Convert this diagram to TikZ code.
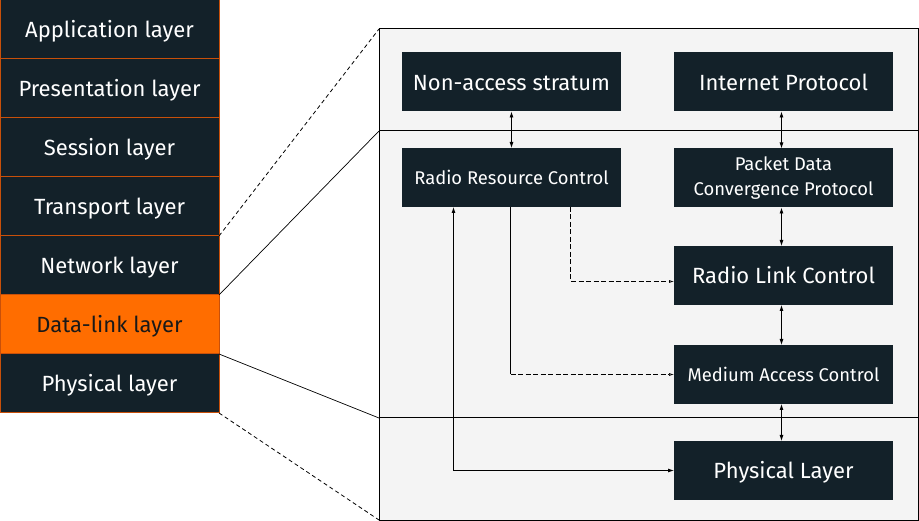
\documentclass[tikz,border=0pt]{standalone}
\usepackage{fontspec}
\setmainfont{Fira Sans}
\usetikzlibrary{arrows.meta}
\definecolor{navy}{HTML}{132129}
\definecolor{orng}{HTML}{FF6D00}
\definecolor{orngline}{HTML}{C8500A}
\definecolor{panelfill}{HTML}{F4F4F4}
\tikzset{
  bigfont/.style={font=\fontsize{22}{26}\selectfont, text height=16.4pt, text depth=0pt},
  smallfont/.style={font=\fontsize{18.4}{24}\selectfont, text height=14.4pt, text depth=0pt},
  layerbox/.style={rectangle, draw=orngline, line width=1pt, fill=navy, text=white,
    minimum width=219pt, minimum height=59pt, inner sep=0pt, outer sep=0pt, bigfont},
  region/.style={rectangle, draw=black, line width=1pt, fill=panelfill,
    minimum width=539pt, inner sep=0pt, outer sep=0pt, anchor=north west},
  protobox/.style={rectangle, fill=navy, text=white, minimum width=219pt,
    minimum height=59pt, inner sep=0pt, outer sep=0pt, align=center, bigfont},
  biarr/.style={{Latex[length=6pt,width=4pt]}-{Latex[length=6pt,width=4pt]}, line width=0.8pt},
  dasharr/.style={-{Latex[length=5pt,width=3pt,open]}, dash pattern=on 5pt off 2.5pt, line width=0.6pt},
  linkline/.style={line width=0.7pt},
  linkdash/.style={line width=0.8pt, dash pattern=on 4pt off 3pt}
}
\begin{document}
\begin{tikzpicture}[x=1pt,y=-1pt]
\useasboundingbox (0,0) rectangle (919,521);

% OSI stack
\node[layerbox] (appl) at (109.5,29.5) {Application layer};
\node[layerbox] (pres) at (109.5,88.5) {Presentation layer};
\node[layerbox] (sess) at (109.5,147.5) {Session layer};
\node[layerbox] (trans) at (109.5,206.5) {Transport layer};
\node[layerbox] (netw) at (109.5,265.5) {Network layer};
\node[layerbox, fill=orng, text=black!90] (dlink) at (109.5,324.5) {Data-link layer};
\node[layerbox] (phyl) at (109.5,383.5) {Physical layer};

% right panel regions
\node[region, minimum height=102pt] (upper) at (379,29) {};
\node[region, minimum height=287pt] (middle) at (379,131) {};
\node[region, minimum height=102pt] (lower) at (379,418) {};

% zoom connectors
\draw[linkdash] (trans.south east) -- (upper.north west);
\draw[linkline] (netw.south east) -- (middle.north west);
\draw[linkline] (dlink.south east) -- (lower.north west);
\draw[linkdash] (phyl.south east) -- (lower.south west);

% protocol boxes
\node[protobox] (nas) at (511.5,82) {Non-access stratum};
\node[protobox] (ip) at (783.5,82) {Internet Protocol};
\node[protobox, smallfont] (rrc) at (511.5,177.5) {Radio Resource Control};
\node[protobox, font=\fontsize{18.4}{24.3}\selectfont, text height=, text depth=] (pdcp) at (783.5,178) {Packet Data\\Convergence Protocol};
\node[protobox] (rlc) at (783.5,275.5) {Radio Link Control};
\node[protobox, smallfont] (mac) at (783.5,374.5) {Medium Access Control};
\node[protobox] (phy) at (783.5,470.5) {Physical Layer};

% vertical double arrows
\draw[biarr] (nas.south) -- (rrc.north);
\draw[biarr] ([xshift=-2pt]ip.south) -- ([xshift=-2pt]pdcp.north);
\draw[biarr] ([xshift=-2pt]pdcp.south) -- ([xshift=-2pt]rlc.north);
\draw[biarr] ([xshift=-2pt]rlc.south) -- ([xshift=-2pt]mac.north);
\draw[biarr] ([xshift=-2pt]mac.south) -- ([xshift=-2pt]phy.north);

% RRC control lines
\draw[biarr] ([xshift=-58pt]rrc.south) |- (phy.west);
\coordinate (macturn) at ([xshift=-1pt]rrc.south |- mac.west);
\draw[line width=0.8pt] ([xshift=-1pt]rrc.south) -- (macturn);
\draw[dasharr] (macturn) -- (mac.west);
\draw[dasharr] ([xshift=59pt]rrc.south) |- ([yshift=-6pt]rlc.west);
\end{tikzpicture}
\end{document}
